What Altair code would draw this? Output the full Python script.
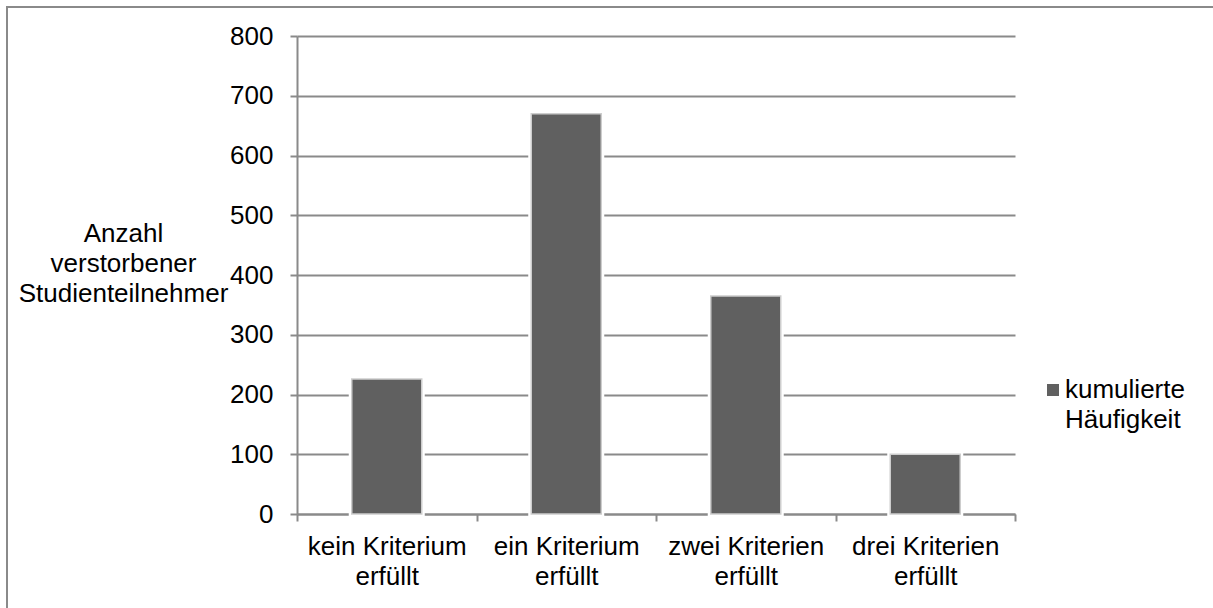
import altair as alt
import pandas as pd

# Categories (number of criteria met) and counts of deceased participants
categories = [
    "kein Kriterium erfüllt",
    "ein Kriterium erfüllt",
    "zwei Kriterien erfüllt",
    "drei Kriterien erfüllt",
]
counts = [226, 670, 365, 100]
series_name = "kumulierte Häufigkeit"
y_ticks = [0, 100, 200, 300, 400, 500, 600, 700, 800]
y_title = ["Anzahl", "verstorbener", "Studienteilnehmer"]

df = pd.DataFrame({
    "Kriterien": categories,
    "Anzahl": counts,
    "Reihe": [series_name] * len(categories),
})

FONT = "Liberation Sans"
GRID = "#8a8a8a"
BAR = "#606060"
BAR_BAND = 0.39

W, H = 718, 478

x_enc = alt.X(
    "Kriterien:N",
    sort=categories,
    scale=alt.Scale(paddingInner=0, paddingOuter=0),
    axis=alt.Axis(
        title=None,
        labelAngle=0,
        labelExpr="[slice(datum.label, 0, lastindexof(datum.label, ' ')), "
                  "slice(datum.label, lastindexof(datum.label, ' ') + 1)]",
        labelFont=FONT,
        labelFontSize=26,
        labelLineHeight=30,
        labelColor="black",
        labelPadding=12,
        tickBand="extent",
        tickSize=7,
        tickColor=GRID,
        tickWidth=2,
        domainColor=GRID,
        domainWidth=2,
    ),
)

y_enc = alt.Y(
    "Anzahl:Q",
    scale=alt.Scale(domain=[0, 800], nice=False),
    axis=alt.Axis(
        values=y_ticks,
        title=y_title,
        titleAngle=0,
        titleAlign="center",
        titleBaseline="top",
        titleX=-174,
        titleY=184,
        titleFont=FONT,
        titleFontSize=26,
        titleFontWeight="normal",
        titleLineHeight=30,
        titleColor="black",
        labelFont=FONT,
        labelFontSize=26,
        labelColor="black",
        labelPadding=17,
        tickSize=7,
        tickColor=GRID,
        tickWidth=2,
        domainColor=GRID,
        domainWidth=2,
        grid=True,
        gridColor=GRID,
        gridWidth=2,
    ),
)

base = alt.Chart(df)

# white halo that interrupts the gridlines around each bar
halo = base.mark_bar(
    color="white", stroke="white", strokeWidth=6,
    width=alt.RelativeBandSize(BAR_BAND),
).encode(x=x_enc, y=y_enc)

bars = base.mark_bar(
    stroke="#cdcdcd", strokeWidth=1.5,
    width=alt.RelativeBandSize(BAR_BAND),
).encode(
    x=x_enc,
    y=y_enc,
    color=alt.Color("Reihe:N", scale=alt.Scale(range=[BAR]), legend=None),
)

# series key on the right: swatch plus two-line label
legend_src = alt.Chart(pd.DataFrame({"Reihe": [series_name]}))
legend_swatch = legend_src.mark_square(size=144, opacity=1).encode(
    x=alt.value(756),
    y=alt.value(354),
    color=alt.Color("Reihe:N", scale=alt.Scale(range=[BAR]), legend=None),
)
legend_text = legend_src.transform_calculate(
    lines="split(datum.Reihe, ' ')"
).mark_text(
    align="left", baseline="alphabetic", font=FONT, fontSize=26,
    lineHeight=30, color="black",
).encode(
    x=alt.value(768),
    y=alt.value(362),
    text="lines:N",
)

# outer frame of the chart
frame = alt.Chart(pd.DataFrame({"f": [0]})).mark_rect(
    fillOpacity=0, stroke=GRID, strokeWidth=2
).encode(
    x=alt.value(-290),
    x2=alt.value(W + 300),
    y=alt.value(-29),
    y2=alt.value(H + 200),
)

chart = (
    alt.layer(frame, halo, bars, legend_swatch, legend_text)
    .properties(
        width=W,
        height=H,
        padding={"left": 297, "top": 36, "right": 198, "bottom": 94},
        autosize=alt.AutoSizeParams(type="none"),
        background="white",
    )
    .configure_view(stroke=None)
)

chart.save("out.html", embed_options={"renderer": "svg", "actions": False})
